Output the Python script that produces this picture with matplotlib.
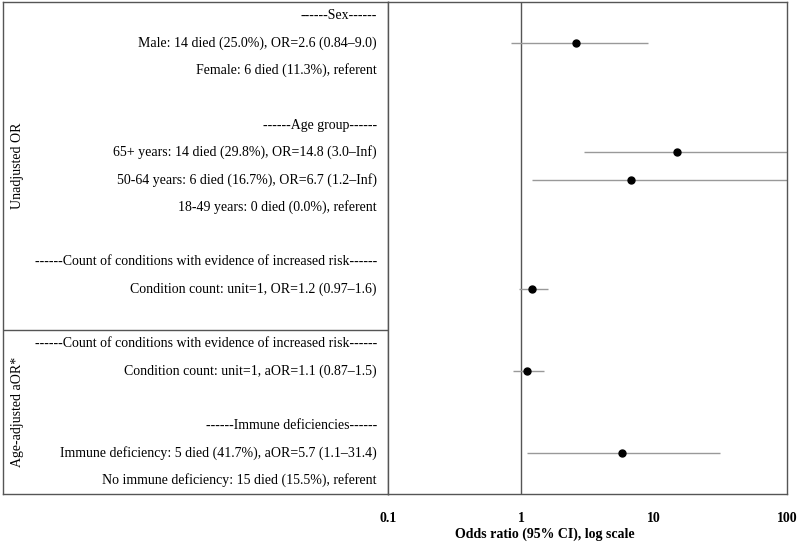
import numpy as np
import matplotlib
matplotlib.use("Agg")
import matplotlib.pyplot as plt

plt.rcParams["font.family"] = ["Liberation Serif", "DejaVu Serif"]

# Row labels, top to bottom
labels = [
    "------Sex------",
    "Male: 14 died (25.0%), OR=2.6 (0.84\u20139.0)",
    "Female: 6 died (11.3%), referent",
    "",
    "------Age group------",
    "65+ years: 14 died (29.8%), OR=14.8 (3.0\u2013Inf)",
    "50-64 years: 6 died (16.7%), OR=6.7 (1.2\u2013Inf)",
    "18-49 years: 0 died (0.0%), referent",
    "",
    "------Count of conditions with evidence of increased risk------",
    "Condition count: unit=1, OR=1.2 (0.97\u20131.6)",
    "",
    "------Count of conditions with evidence of increased risk------",
    "Condition count: unit=1, aOR=1.1 (0.87\u20131.5)",
    "",
    "------Immune deficiencies------",
    "Immune deficiency: 5 died (41.7%), aOR=5.7 (1.1\u201331.4)",
    "No immune deficiency: 15 died (15.5%), referent",
]
nan = np.nan
odds = [nan, 2.6, nan, nan, nan, 14.8, 6.7, nan, nan, nan, 1.2, nan,
        nan, 1.1, nan, nan, 5.7, nan]
ci_lo = [nan, 0.84, nan, nan, nan, 3.0, 1.2, nan, nan, nan, 0.97, nan,
         nan, 0.87, nan, nan, 1.1, nan]
ci_hi = [nan, 9.0, nan, nan, nan, np.inf, np.inf, nan, nan, nan, 1.6, nan,
         nan, 1.5, nan, nan, 31.4, nan]

groups = ["Unadjusted OR", "Age-adjusted aOR*"]
group_rows = [(0, 11), (12, 17)]

x_ticks = [0.1, 1, 10, 100]
x_ticklabels = ["0.1", "1", "10", "100"]

W, H = 800, 543
fig = plt.figure(figsize=(W / 100, H / 100), dpi=100)

frame_col = "#555555"
top_px, bot_px = 2, 494
left_px, mid_px, right_px = 3, 388, 787

n = len(labels)
ylim = (n - 0.5, -0.5)

ax_l = fig.add_axes([left_px / W, (H - bot_px) / H, (mid_px - left_px) / W,
                     (bot_px - top_px) / H])
ax_r = fig.add_axes([mid_px / W, (H - bot_px) / H, (right_px - mid_px) / W,
                     (bot_px - top_px) / H])

# left panel: labels
ax_l.set_xlim(0, 1)
ax_l.set_ylim(*ylim)
ax_l.set_xticks([])
ax_l.set_yticks([])
for s in ax_l.spines.values():
    s.set_color(frame_col)
    s.set_linewidth(1)
x_txt = (377 - left_px) / (mid_px - left_px)
for i, lab in enumerate(labels):
    ax_l.text(x_txt, i, lab, ha="right", va="center", fontsize=10)
for g, (a, b) in zip(groups, group_rows):
    ax_l.text(15 / (mid_px - left_px), (a + b) / 2, g, rotation=90,
              ha="center", va="center", fontsize=10)
ax_l.axhline(11.5, color=frame_col, lw=1)

# right panel: forest plot
ax_r.set_xscale("log")
ax_r.set_xlim(x_ticks[0], x_ticks[-1])
ax_r.set_ylim(*ylim)
ax_r.set_yticks([])
ax_r.set_xticks(x_ticks)
ax_r.set_xticklabels(x_ticklabels, fontweight="bold", fontsize=10)
ax_r.minorticks_off()
ax_r.tick_params(axis="x", length=0, pad=13)
for s in ax_r.spines.values():
    s.set_color(frame_col)
    s.set_linewidth(1)
ax_r.axvline(1, color=frame_col, lw=1)

rows = np.arange(n)
odds = np.array(odds)
lo = np.array(ci_lo)
hi = np.minimum(np.array(ci_hi), x_ticks[-1])
m = ~np.isnan(odds)
ax_r.hlines(rows[m], lo[m], hi[m], color="#999999", lw=1)
ax_r.plot(odds[m], rows[m], "o", color="black", ms=5)

fig.text(545 / W, 1 - 534 / H, "Odds ratio (95% CI), log scale",
         fontweight="bold", fontsize=10, ha="center", va="center")

fig.savefig("out.png", dpi=100)
